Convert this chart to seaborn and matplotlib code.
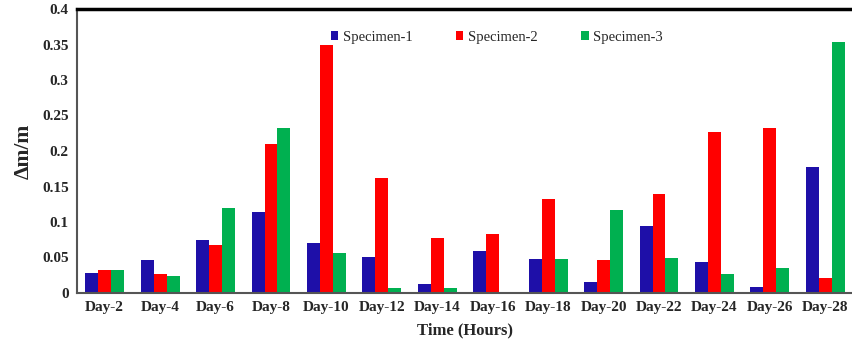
import numpy as np
import pandas as pd
import matplotlib
matplotlib.use("Agg")
import matplotlib.pyplot as plt
import seaborn as sns

days = ["Day-2", "Day-4", "Day-6", "Day-8", "Day-10", "Day-12", "Day-14",
        "Day-16", "Day-18", "Day-20", "Day-22", "Day-24", "Day-26", "Day-28"]
specimen1 = [0.028, 0.046, 0.074, 0.114, 0.070, 0.051, 0.013, 0.059, 0.048, 0.015, 0.094, 0.043, 0.009, 0.178]
specimen2 = [0.032, 0.027, 0.068, 0.210, 0.350, 0.162, 0.077, 0.083, 0.132, 0.047, 0.139, 0.227, 0.233, 0.021]
specimen3 = [0.032, 0.024, 0.120, 0.232, 0.057, 0.007, 0.007, 0.001, 0.048, 0.117, 0.049, 0.027, 0.035, 0.353]
series_names = ["Specimen-1", "Specimen-2", "Specimen-3"]
colors = ["#1E0FA8", "#FF0000", "#00B050"]

df = pd.DataFrame({
    "Day": days * 3,
    "Specimen": [series_names[0]] * len(days) + [series_names[1]] * len(days) + [series_names[2]] * len(days),
    "Value": specimen1 + specimen2 + specimen3,
})

sns.set_theme(style="white")
plt.rcParams["font.family"] = ["Liberation Serif", "DejaVu Serif"]

fig = plt.figure(figsize=(8.53, 3.44), dpi=100)
ax = fig.add_axes([77/853, 1 - 293/344, 1 - 77/853, (293 - 9)/344])

sns.barplot(data=df, x="Day", y="Value", hue="Specimen", order=days,
            hue_order=series_names, palette=colors, width=0.7, gap=0,
            saturation=1, linewidth=0, ax=ax)

ax.set_ylim(0, 0.4)
ax.set_xlim(-0.5, 13.5)
ax.set_yticks([0, 0.05, 0.1, 0.15, 0.2, 0.25, 0.3, 0.35, 0.4])
ax.set_yticklabels(["0", "0.05", "0.1", "0.15", "0.2", "0.25", "0.3", "0.35", "0.4"])
for lab in ax.get_xticklabels() + ax.get_yticklabels():
    lab.set_fontweight("bold")
    lab.set_fontsize(11)
ax.tick_params(axis="both", length=0, pad=6)

ax.set_xlabel("Time (Hours)", fontsize=12, fontweight="bold", labelpad=6)
ax.set_ylabel("Δm/m", fontsize=15.5, fontweight="bold", labelpad=6)

ax.spines["top"].set_color("black")
ax.spines["top"].set_linewidth(2.5)
ax.spines["left"].set_color("#555555")
ax.spines["left"].set_linewidth(1.5)
ax.spines["bottom"].set_color("#555555")
ax.spines["bottom"].set_linewidth(1.5)
ax.spines["right"].set_visible(False)

leg = ax.legend(loc="upper center", bbox_to_anchor=(0.541, 0.97), ncol=3, frameon=False,
                fontsize=10.5, handlelength=0.5, handleheight=0.5, handletextpad=0.3,
                columnspacing=3.0)

fig.savefig("out.png", dpi=100)
